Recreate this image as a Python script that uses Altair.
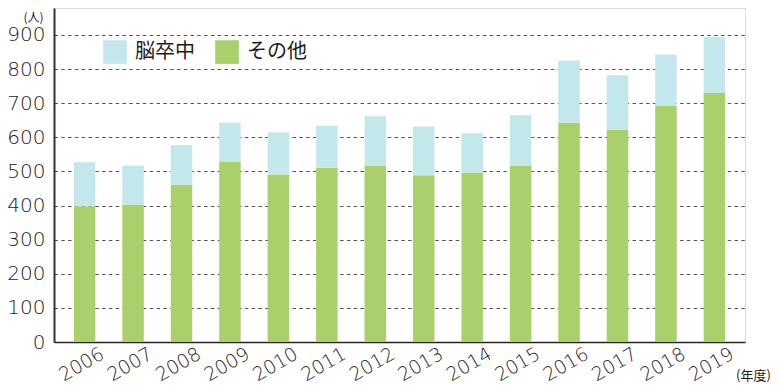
import altair as alt
import pandas as pd

years = ["2006", "2007", "2008", "2009", "2010", "2011", "2012",
         "2013", "2014", "2015", "2016", "2017", "2018", "2019"]
other = [398, 402, 460, 529, 491, 511, 516, 489, 497, 517, 643, 622, 693, 730]
stroke = [129, 115, 117, 114, 124, 123, 146, 143, 115, 148, 182, 160, 150, 164]
series = ["脳卒中", "その他"]
colors = ["#c3e8ec", "#a9d06b"]
y_ticks = [0, 100, 200, 300, 400, 500, 600, 700, 800, 900]

rows = []
for y, o, s in zip(years, other, stroke):
    rows.append({"year": y, "type": "その他", "value": o, "ord": 0})
    rows.append({"year": y, "type": "脳卒中", "value": s, "ord": 1})
df = pd.DataFrame(rows)

FONT = "Noto Sans CJK JP"
NUMFONT = "DejaVu Sans"
TXT = "#1f1a1a"

chart = alt.Chart(df).mark_bar().encode(
    x=alt.X("year:N", sort=years,
            scale=alt.Scale(paddingInner=0.556, paddingOuter=0.41),
            axis=alt.Axis(title="(年度)", titleX=699, titleY=33,
                          titleAlign="center", titleBaseline="middle",
                          titleFontSize=13, titleFontWeight="normal",
                          titleColor=TXT, titleFont=FONT,
                          labelAngle=330, labelAlign="center",
                          labelBaseline="middle", labelPadding=22,
                          labelOffset=-3, labelFontWeight=200,
                          labelFontSize=19, labelColor=TXT, labelFont=NUMFONT,
                          ticks=False, domainColor="#2b2525",
                          domainWidth=1.5, grid=False)),
    y=alt.Y("value:Q", stack="zero",
            scale=alt.Scale(domain=[0, 979], nice=False, zero=True),
            axis=alt.Axis(title="(人)", titleAngle=0, titleX=-21, titleY=9,
                          titleAlign="center", titleBaseline="middle",
                          titleFontSize=12, titleFontWeight="normal",
                          titleColor=TXT, titleFont=FONT,
                          values=y_ticks, labelFontSize=20,
                          labelFontWeight=200,
                          labelColor=TXT, labelFont=NUMFONT, labelPadding=9,
                          ticks=False, domainColor="#3a3030",
                          domainWidth=2, grid=True, gridColor="#555555",
                          gridDash=[3.5, 3.3], gridWidth=1)),
    color=alt.Color("type:N",
                    scale=alt.Scale(domain=series, range=colors),
                    legend=alt.Legend(title=None, orient="none",
                                      direction="horizontal",
                                      legendX=49, legendY=32,
                                      symbolType="square", symbolSize=560,
                                      symbolStrokeWidth=0,
                                      labelFontSize=20, labelFont=FONT,
                                      labelColor=TXT, labelOffset=8,
                                      columnPadding=20, symbolOpacity=1)),
    order=alt.Order("ord:Q", sort="ascending"),
).properties(
    width=691, height=334,
    autosize=alt.AutoSizeParams(type="none"),
    padding={"left": 46, "top": 0, "right": 25, "bottom": 48},
).configure_view(stroke=None).configure(font=FONT, background="white")

chart.save("out.html", embed_options={"renderer": "svg", "actions": False})
